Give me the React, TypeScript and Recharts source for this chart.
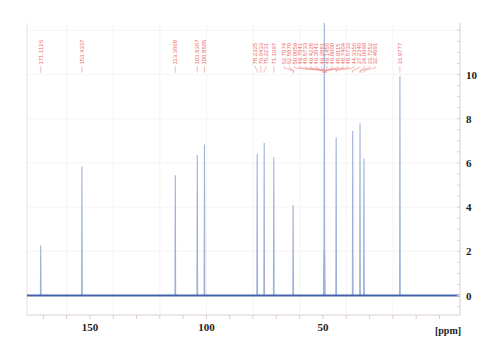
import React from 'react';
import { ComposedChart, Line, XAxis, YAxis, CartesianGrid, ReferenceLine } from 'recharts';

// ---- data ----
const PEAK_PPM = [171.1126, 153.4337, 113.3668, 103.9367, 100.8565, 78.2325, 75.2231, 71.1097, 62.7874, 49.64, 49.4228, 49.21, 44.3356, 37.234, 34.0999, 32.4091, 16.9777];
const PEAK_HEIGHT = [2.26, 5.84, 5.44, 6.35, 6.83, 6.4, 6.9, 6.26, 4.1, 2.0, 13.0, 1.9, 7.15, 7.46, 7.8, 6.2, 9.92];

const PEAK_LABELS = [
  '171.1126', '153.4337', '113.3668', '103.9367', '100.8565',
  '78.2325', '76.6433', '75.2231', '71.1097',
  '62.7874', '62.5870', '50.0059', '49.7841', '49.5733', '49.4228', '49.3541', '49.2881',
  '49.1456', '49.0000', '48.9115', '48.7404', '48.5733',
  '44.3356', '37.2340', '34.0999', '33.7252', '32.4091',
  '16.9777',
];

const X_TICKS = [170, 160, 150, 140, 130, 120, 110, 100, 90, 80, 70, 60, 50, 40, 30, 20, 10, 0];
const X_TICK_LABELS = [150, 100, 50];
const Y_TICKS = [-0.5, 0, 0.5, 1, 1.5, 2, 2.5, 3, 3.5, 4, 4.5, 5, 5.5, 6, 6.5, 7, 7.5, 8, 8.5, 9, 9.5, 10, 10.5, 11, 11.5, 12];
const Y_TICK_LABELS = [0, 2, 4, 6, 8, 10];

const X_DOMAIN: [number, number] = [-8.8, 177];
const Y_DOMAIN: [number, number] = [-0.88, 12.33];

// label geometry in data units
const PEAK_HALF_WIDTH = 0.15;
const LABEL_BASE = 10.45;
const CONN_TOP = 10.38;
const CONN_BEND1 = 10.3;
const CONN_BEND2 = 10.18;
const CONN_BOTTOM = 10.08;
const LABEL_GAP = 2.3;

// ---- build series ----
const peakOrder = PEAK_PPM.map((p, i) => ({ p, h: PEAK_HEIGHT[i] })).sort((a, b) => b.p - a.p);
const peakData: { x: number; y: number }[] = [{ x: X_DOMAIN[1], y: 0 }];
peakOrder.forEach(({ p, h }) => {
  peakData.push({ x: p + PEAK_HALF_WIDTH, y: 0 });
  peakData.push({ x: p, y: h });
  peakData.push({ x: p - PEAK_HALF_WIDTH, y: 0 });
});
peakData.push({ x: X_DOMAIN[0], y: 0 });

const baselineData = [{ x: X_DOMAIN[1], y: 0 }, { x: X_DOMAIN[0], y: 0 }];

function layoutLabels(values: number[], gap: number): number[] {
  let groups = values.map((v, i) => ({ start: i, n: 1, center: v }));
  let merged = true;
  while (merged) {
    merged = false;
    for (let i = 0; i < groups.length - 1; i++) {
      const a = groups[i];
      const b = groups[i + 1];
      const aLow = a.center - ((a.n - 1) / 2) * gap;
      const bHigh = b.center + ((b.n - 1) / 2) * gap;
      if (aLow - bHigh < gap) {
        const n = a.n + b.n;
        const members = values.slice(a.start, a.start + n);
        const center = members.reduce((s, v) => s + v, 0) / n;
        groups.splice(i, 2, { start: a.start, n, center });
        merged = true;
        break;
      }
    }
  }
  const out: number[] = [];
  groups.forEach((g) => {
    for (let k = 0; k < g.n; k++) out.push(g.center + ((g.n - 1) / 2 - k) * gap);
  });
  return out;
}

const labelValues = PEAK_LABELS.map((s) => parseFloat(s));
const labelPos = layoutLabels(labelValues, LABEL_GAP);
const labelData = PEAK_LABELS.map((t, i) => ({ x: labelPos[i], y: LABEL_BASE, text: t }));
const connectorData: { x: number; y: number | null }[] = [];
labelValues.forEach((p, i) => {
  const lx = labelPos[i];
  connectorData.push({ x: lx, y: CONN_TOP });
  connectorData.push({ x: lx, y: CONN_BEND1 });
  connectorData.push({ x: p, y: CONN_BEND2 });
  connectorData.push({ x: p, y: CONN_BOTTOM });
  connectorData.push({ x: p, y: null });
});

// ---- styles ----
const AXIS_COLOR = '#dccfcf';
const LABEL_COLOR = '#ec6a66';
const SERIF = '"Liberation Serif", "Times New Roman", serif';

const XTick = (props: any) => {
  const { x, y, payload } = props;
  if (!X_TICK_LABELS.includes(payload.value)) return <g />;
  return (
    <text x={x} y={y} dy={10} textAnchor="middle" fontFamily={SERIF} fontWeight="bold" fontSize={11} fill="#222">
      {payload.value}
    </text>
  );
};

const YTick = (props: any) => {
  const { x, y, payload } = props;
  const v = payload.value;
  return (
    <g>
      <line x1={x - 3} x2={x} y1={y} y2={y} stroke={AXIS_COLOR} strokeWidth={1} />
      {Y_TICK_LABELS.includes(v) ? (
        <text x={x + 6} y={y} dy={4} textAnchor="start" fontFamily={SERIF} fontWeight="bold" fontSize={11} fill="#222">
          {v}
        </text>
      ) : null}
    </g>
  );
};

const PpmLabel = (props: any) => {
  const vb = props.viewBox || {};
  return (
    <text x={vb.x + vb.width - 12} y={vb.y + 19} textAnchor="middle" fontFamily={SERIF} fontWeight="bold" fontSize={10} fill="#222">
      [ppm]
    </text>
  );
};

const LabelDot = (props: any) => {
  const { cx, cy, payload, index } = props;
  if (cx == null || cy == null) return <g key={`l${index}`} />;
  return (
    <text
      key={`l${index}`}
      x={cx}
      y={cy}
      transform={`rotate(-90, ${cx}, ${cy})`}
      textAnchor="start"
      dominantBaseline="central"
      fontFamily="Liberation Sans, Arial, sans-serif"
      fontSize={6}
      fill={LABEL_COLOR}
    >
      {payload.text}
    </text>
  );
};

export default function App() {
  return (
    <ComposedChart width={492} height={351} margin={{ top: 15, right: 10, bottom: 14, left: 19 }}>
      <CartesianGrid
        stroke="#f6f3f3"
        verticalValues={[160, 140, 120, 100, 80, 60, 40, 20]}
        horizontalValues={[2, 4, 6, 8, 10, 12]}
      />
      <XAxis
        dataKey="x"
        type="number"
        domain={X_DOMAIN}
        allowDataOverflow
        reversed
        ticks={X_TICKS}
        interval={0}
        tickSize={4}
        tickLine={{ stroke: AXIS_COLOR }}
        axisLine={{ stroke: AXIS_COLOR }}
        tick={<XTick />}
        height={30}
        label={<PpmLabel />}
      />
      <YAxis
        orientation="right"
        type="number"
        domain={Y_DOMAIN}
        allowDataOverflow
        ticks={Y_TICKS}
        interval={0}
        tickSize={0}
        tickMargin={0}
        tickLine={false}
        axisLine={{ stroke: AXIS_COLOR }}
        tick={<YTick />}
        width={30}
      />
      <ReferenceLine x={X_DOMAIN[1]} stroke="#f3dede" />
      <Line data={peakData} dataKey="y" type="linear" stroke="#9fb1da" strokeWidth={1.1} dot={false} isAnimationActive={false} />
      <Line data={baselineData} dataKey="y" type="linear" stroke="#4462ab" strokeWidth={2} dot={false} isAnimationActive={false} />
      <Line data={connectorData} dataKey="y" type="linear" stroke="#f09a96" strokeWidth={0.7} dot={false} connectNulls={false} isAnimationActive={false} />
      <Line data={labelData} dataKey="y" type="linear" stroke="none" dot={LabelDot} activeDot={false} isAnimationActive={false} />
    </ComposedChart>
  );
}
